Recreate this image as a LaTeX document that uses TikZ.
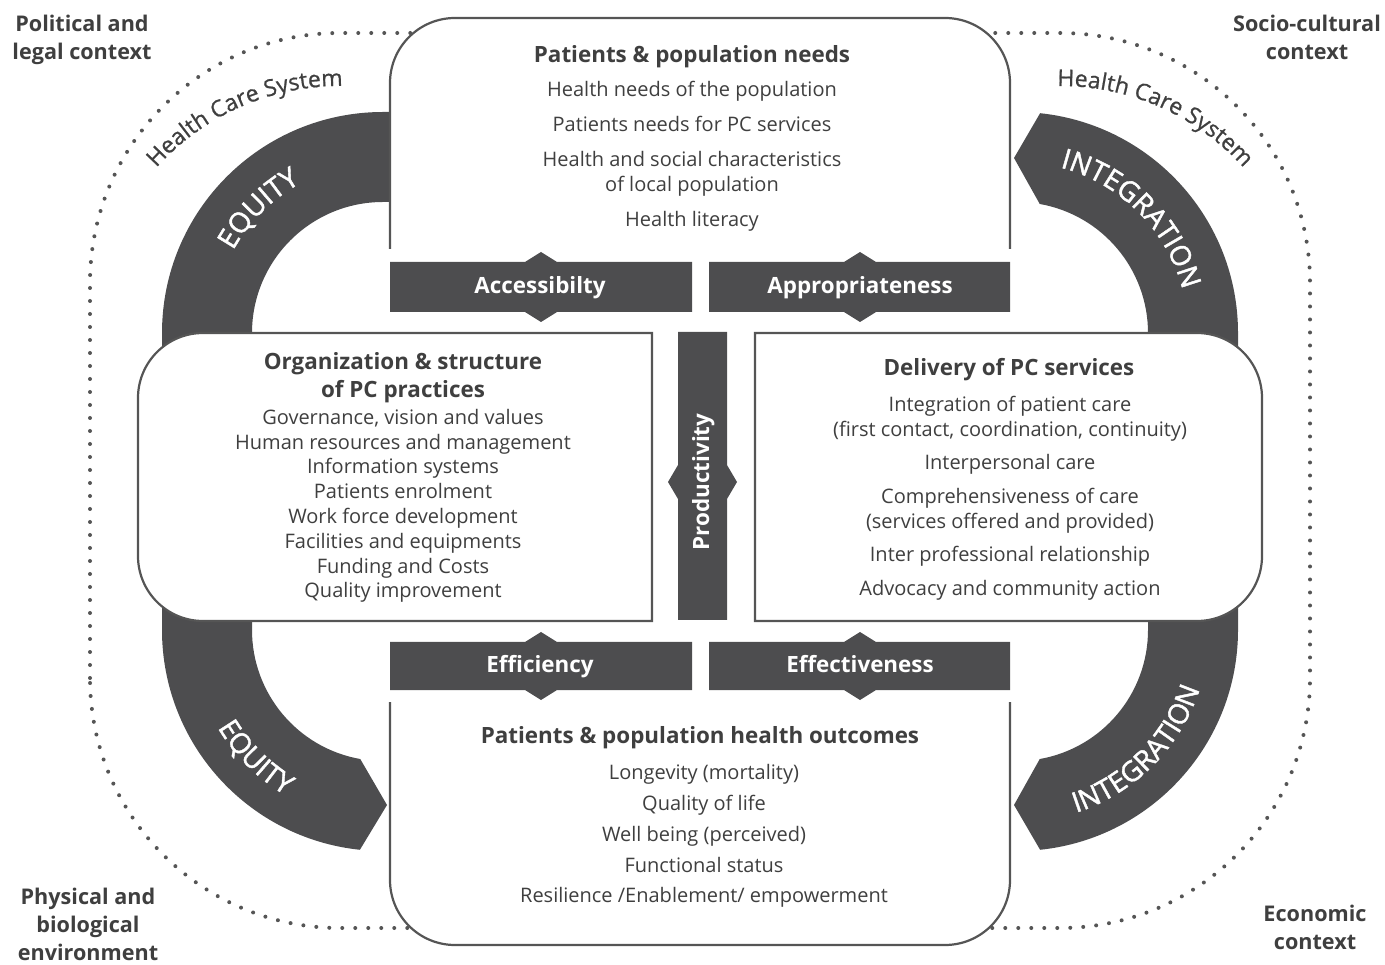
\documentclass[tikz,border=0pt]{standalone}
\usepackage{fontspec}
\setmainfont{Open Sans}
\usetikzlibrary{calc,decorations.text}
\definecolor{bandgray}{HTML}{4D4D4F}
\definecolor{inkgray}{HTML}{3F3F3F}
\definecolor{linegray}{HTML}{555555}
\tikzstyle{panel} = [draw=linegray, line width=1.1pt, fill=white]
\tikzstyle{band} = [fill=bandgray]
\tikzstyle{title} = [text=inkgray, align=center, font=\bfseries\fontsize{11.2}{14}\selectfont]
\tikzstyle{body} = [text=inkgray, align=center, font=\fontsize{10}{12.4}\selectfont]
\tikzstyle{barlabel} = [text=white, text height=1.55ex, text depth=0.4ex, font=\bfseries\fontsize{11.2}{14}\selectfont]
\tikzstyle{context} = [text=inkgray, align=center, font=\bfseries\fontsize{10.8}{14}\selectfont]
\newcommand{\bandfont}{\fontsize{14}{16}\selectfont\addfontfeature{LetterSpace=8,FakeBold=1.5}}
\newcommand{\hcsfont}{\fontsize{11.5}{14}\selectfont\addfontfeature{FakeBold=0.8}}

\begin{document}
\begin{tikzpicture}[x=0.5pt,y=0.5pt]
  \useasboundingbox (0,0) rectangle (1385,964);
  \coordinate (c1) at (383,631);
  \coordinate (c2) at (383,334);
  \coordinate (c3) at (1017,631);
  \coordinate (c4) at (1017,334);
  \coordinate (h1) at (340,631);
  \coordinate (h2) at (1060,631);

  \draw[linegray, line width=2pt, line cap=round, dash pattern=on 0pt off 6.5pt, rounded corners=125pt] (90,36) rectangle (1310,931);
  \path[decorate, decoration={text along path, text align=center, text color=inkgray, text={|\hcsfont|Health Care System}}] ($(h1)+(148.7:247)$) arc[start angle=148.7, end angle=78.7, radius=247];
  \path[decorate, decoration={text along path, text align=center, text color=inkgray, text={|\hcsfont|Health Care System}}] ($(h2)+(101.3:247)$) arc[start angle=101.3, end angle=31.3, radius=247];

  \fill[band] (420,852) -- (383,852) arc[start angle=90, end angle=180, radius=221] -- (162,600) -- (252,600) -- (252,631) arc[start angle=180, end angle=90, radius=131] -- (420,762) -- cycle;
  \fill[band] (252,370) -- (252,334) arc[start angle=180, end angle=260, radius=131] -- (387,159) -- ($(c2)+(264:221)$) arc[start angle=264, end angle=180, radius=221] -- (162,370) -- cycle;
  \fill[band] (1148,600) -- (1148,631) arc[start angle=0, end angle=80, radius=131] -- (1014,806) -- ($(c3)+(84:221)$) arc[start angle=84, end angle=0, radius=221] -- (1238,600) -- cycle;
  \fill[band] (1148,370) -- (1148,334) arc[start angle=0, end angle=-80, radius=131] -- (1014,159) -- ($(c4)+(-84:221)$) arc[start angle=-84, end angle=0, radius=221] -- (1238,370) -- cycle;

  \path[decorate, decoration={text along path, text align=center, text color=white, text={|\bandfont|EQUITY}}] ($(c1)+(180:171)$) arc[start angle=180, end angle=90, radius=171];
  \path[decorate, decoration={text along path, text align=center, text color=white, text={|\bandfont|EQUITY}}] ($(c2)+(180:192)$) arc[start angle=180, end angle=270, radius=192];
  \path[decorate, decoration={text along path, text align=center, text color=white, text={|\bandfont|INTEGRATION}}] ($(c3)+(90:171)$) arc[start angle=90, end angle=0, radius=171];
  \path[decorate, decoration={text along path, text align=center, text color=white, text={|\bandfont|INTEGRATION}}] ($(c4)+(270:192)$) arc[start angle=270, end angle=360, radius=192];

  \draw[panel] (390,715) -- (390,800) [rounded corners=32.5pt] -- (390,946) -- (1010,946) -- (1010,800) [sharp corners] -- (1010,715);
  \draw[panel] (390,262) -- (390,150) [rounded corners=32.5pt] -- (390,19) -- (1010,19) -- (1010,150) [sharp corners] -- (1010,262);
  \draw[panel] (652,631) -- (400,631) [rounded corners=32.5pt] -- (138,631) -- (138,343) -- (400,343) [sharp corners] -- (652,343) -- cycle;
  \draw[panel] (755,631) -- (1000,631) [rounded corners=32.5pt] -- (1262,631) -- (1262,343) -- (1000,343) [sharp corners] -- (755,343) -- cycle;

  \fill[band] (390,652) -- (390,702) -- (525,702) -- (541,712) -- (557,702) -- (692,702) -- (692,652) -- (557,652) -- (541,642) -- (525,652) -- cycle;
  \fill[band] (709,652) -- (709,702) -- (844,702) -- (860,712) -- (876,702) -- (1010,702) -- (1010,652) -- (876,652) -- (860,642) -- (844,652) -- cycle;
  \fill[band] (390,274) -- (390,322) -- (525,322) -- (541,332) -- (557,322) -- (692,322) -- (692,274) -- (557,274) -- (541,264) -- (525,274) -- cycle;
  \fill[band] (709,274) -- (709,322) -- (844,322) -- (860,332) -- (876,322) -- (1010,322) -- (1010,274) -- (876,274) -- (860,264) -- (844,274) -- cycle;
  \fill[band] (678,344) -- (678,465) -- (668,482) -- (678,499) -- (678,632) -- (727,632) -- (727,499) -- (737,482) -- (727,465) -- (727,344) -- cycle;

  \draw (540, 677)node[barlabel](access){Accessibilty};
  \draw (860, 677)node[barlabel](approp){Appropriateness};
  \draw (540, 298)node[barlabel](effic){Efficiency};
  \draw (860, 298)node[barlabel](effect){Effectiveness};
  \draw (703, 482)node[barlabel, rotate=90](product){Productivity};

  \draw (692, 907)node[title](needsT){Patients \& population needs};
  \draw (692, 808)node[body](needsB){Health needs of the population\\[5.2pt]
    Patients needs for PC services\\[5.2pt]
    Health and social characteristics\\
    of local population\\[5.2pt]
    Health literacy};
  \draw (403, 586)node[title](orgT){Organization \& structure\\of PC practices};
  \draw (403, 458)node[body](orgB){Governance, vision and values\\
    Human resources and management\\
    Information systems\\
    Patients enrolment\\
    Work force development\\
    Facilities and equipments\\
    Funding and Costs\\
    Quality improvement};
  \draw (1009, 594)node[title](delT){Delivery of PC services};
  \draw (1010, 466)node[body](delB){Integration of patient care\\
    (first contact, coordination, continuity)\\[4.4pt]
    Interpersonal care\\[4.4pt]
    Comprehensiveness of care\\
    (services offered and provided)\\[4.4pt]
    Inter professional relationship\\[4.4pt]
    Advocacy and community action};
  \draw (700, 226)node[title](outT){Patients \& population health outcomes};
  \draw (704, 128)node[body](outB){Longevity (mortality)\\[3pt]
    Quality of life\\[3pt]
    Well being (perceived)\\[3pt]
    Functional status\\[3pt]
    Resilience /Enablement/ empowerment};

  \draw (82, 924)node[context](polit){Political and\\legal context};
  \draw (1307, 927)node[context](socio){Socio-cultural\\context};
  \draw (88, 40)node[context](phys){Physical and\\biological\\environment};
  \draw (1315, 37)node[context](econ){Economic\\context};
\end{tikzpicture}
\end{document}
